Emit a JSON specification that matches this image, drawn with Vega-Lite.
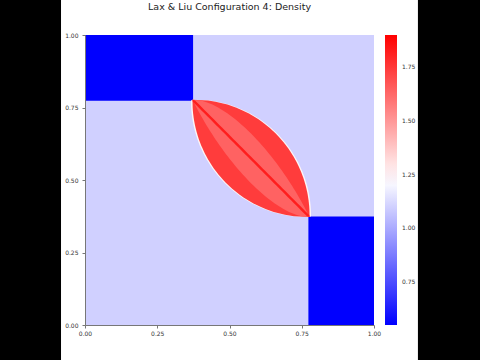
{
"$schema": "https://vega.github.io/schema/vega-lite/v6.json",
"width": 289, "height": 290,
"autosize": {"type": "none"},
"padding": {"left": 85, "top": 35, "right": 106, "bottom": 35},
"background": "black",
"title": {"text": "Lax & Liu Configuration 4: Density", "fontSize": 9.5, "font": "DejaVu Sans", "fontWeight": "normal", "color": "#222", "frame": "group", "anchor": "middle", "baseline": "alphabetic", "offset": 0, "dy": 20.5},
"config": {
  "view": {"stroke": null},
  "axis": {"labelFontSize": 6, "labelColor": "#333", "tickColor": "#777", "domainColor": "#777", "tickSize": 3, "labelPadding": 2, "grid": false, "labelFont": "DejaVu Sans", "labelFlush": false},
  "axisY": {"labelPadding": 4},
  "legend": {"labelFont": "DejaVu Sans"}
},
"datasets": {
  "cells": [
    {"x":0,"x2":1,"y":0,"y2":1,"v":1.1},
    {"x":0,"x2":0.374,"y":0.773,"y2":1,"v":0.5065},
    {"x":0.773,"x2":1,"y":0,"y2":0.374,"v":0.5065}
  ],
  "rim": [
    {"y":0.372,"x":0.777,"x2":0.777,"v":1.25},
    {"y":0.375,"x":0.7175,"x2":0.782,"v":1.25},
    {"y":0.38,"x":0.6869,"x2":0.782,"v":1.25},
    {"y":0.39,"x":0.6479,"x2":0.7818,"v":1.25},
    {"y":0.40,"x":0.6195,"x2":0.7814,"v":1.25},
    {"y":0.41,"x":0.5964,"x2":0.7807,"v":1.25},
    {"y":0.42,"x":0.5766,"x2":0.7797,"v":1.25},
    {"y":0.43,"x":0.5591,"x2":0.7786,"v":1.25},
    {"y":0.44,"x":0.5435,"x2":0.7771,"v":1.25},
    {"y":0.45,"x":0.5293,"x2":0.7754,"v":1.25},
    {"y":0.46,"x":0.5163,"x2":0.7734,"v":1.25},
    {"y":0.47,"x":0.5043,"x2":0.7712,"v":1.25},
    {"y":0.48,"x":0.4933,"x2":0.7687,"v":1.25},
    {"y":0.49,"x":0.483,"x2":0.7659,"v":1.25},
    {"y":0.50,"x":0.4734,"x2":0.7628,"v":1.25},
    {"y":0.51,"x":0.4644,"x2":0.7594,"v":1.25},
    {"y":0.52,"x":0.4561,"x2":0.7558,"v":1.25},
    {"y":0.53,"x":0.4482,"x2":0.7518,"v":1.25},
    {"y":0.54,"x":0.4409,"x2":0.7475,"v":1.25},
    {"y":0.55,"x":0.434,"x2":0.7429,"v":1.25},
    {"y":0.56,"x":0.4275,"x2":0.7379,"v":1.25},
    {"y":0.57,"x":0.4215,"x2":0.7326,"v":1.25},
    {"y":0.58,"x":0.4159,"x2":0.7269,"v":1.25},
    {"y":0.59,"x":0.4106,"x2":0.7208,"v":1.25},
    {"y":0.60,"x":0.4057,"x2":0.7144,"v":1.25},
    {"y":0.61,"x":0.4011,"x2":0.7074,"v":1.25},
    {"y":0.62,"x":0.3968,"x2":0.70,"v":1.25},
    {"y":0.63,"x":0.3929,"x2":0.6921,"v":1.25},
    {"y":0.64,"x":0.3892,"x2":0.6837,"v":1.25},
    {"y":0.65,"x":0.3859,"x2":0.6747,"v":1.25},
    {"y":0.66,"x":0.3829,"x2":0.665,"v":1.25},
    {"y":0.67,"x":0.3801,"x2":0.6547,"v":1.25},
    {"y":0.68,"x":0.3776,"x2":0.6435,"v":1.25},
    {"y":0.69,"x":0.3754,"x2":0.6315,"v":1.25},
    {"y":0.70,"x":0.3734,"x2":0.6184,"v":1.25},
    {"y":0.71,"x":0.3717,"x2":0.604,"v":1.25},
    {"y":0.72,"x":0.3703,"x2":0.5882,"v":1.25},
    {"y":0.73,"x":0.3691,"x2":0.5706,"v":1.25},
    {"y":0.74,"x":0.3682,"x2":0.5505,"v":1.25},
    {"y":0.75,"x":0.3676,"x2":0.527,"v":1.25},
    {"y":0.76,"x":0.3672,"x2":0.4979,"v":1.25},
    {"y":0.77,"x":0.367,"x2":0.457,"v":1.25},
    {"y":0.774,"x":0.367,"x2":0.4315,"v":1.25},
    {"y":0.777,"x":0.372,"x2":0.372,"v":1.25}
  ],
  "full": [
    {"y":0.372,"x":0.777,"x2":0.777,"v":1.74},
    {"y":0.375,"x":0.7225,"x2":0.777,"v":1.74},
    {"y":0.38,"x":0.6919,"x2":0.777,"v":1.74},
    {"y":0.39,"x":0.6529,"x2":0.7768,"v":1.74},
    {"y":0.40,"x":0.6245,"x2":0.7764,"v":1.74},
    {"y":0.41,"x":0.6014,"x2":0.7757,"v":1.74},
    {"y":0.42,"x":0.5816,"x2":0.7747,"v":1.74},
    {"y":0.43,"x":0.5641,"x2":0.7736,"v":1.74},
    {"y":0.44,"x":0.5485,"x2":0.7721,"v":1.74},
    {"y":0.45,"x":0.5343,"x2":0.7704,"v":1.74},
    {"y":0.46,"x":0.5213,"x2":0.7684,"v":1.74},
    {"y":0.47,"x":0.5093,"x2":0.7662,"v":1.74},
    {"y":0.48,"x":0.4983,"x2":0.7637,"v":1.74},
    {"y":0.49,"x":0.488,"x2":0.7609,"v":1.74},
    {"y":0.50,"x":0.4784,"x2":0.7578,"v":1.74},
    {"y":0.51,"x":0.4694,"x2":0.7544,"v":1.74},
    {"y":0.52,"x":0.4611,"x2":0.7508,"v":1.74},
    {"y":0.53,"x":0.4532,"x2":0.7468,"v":1.74},
    {"y":0.54,"x":0.4459,"x2":0.7425,"v":1.74},
    {"y":0.55,"x":0.439,"x2":0.7379,"v":1.74},
    {"y":0.56,"x":0.4325,"x2":0.7329,"v":1.74},
    {"y":0.57,"x":0.4265,"x2":0.7276,"v":1.74},
    {"y":0.58,"x":0.4209,"x2":0.7219,"v":1.74},
    {"y":0.59,"x":0.4156,"x2":0.7158,"v":1.74},
    {"y":0.60,"x":0.4107,"x2":0.7094,"v":1.74},
    {"y":0.61,"x":0.4061,"x2":0.7024,"v":1.74},
    {"y":0.62,"x":0.4018,"x2":0.695,"v":1.74},
    {"y":0.63,"x":0.3979,"x2":0.6871,"v":1.74},
    {"y":0.64,"x":0.3942,"x2":0.6787,"v":1.74},
    {"y":0.65,"x":0.3909,"x2":0.6697,"v":1.74},
    {"y":0.66,"x":0.3879,"x2":0.66,"v":1.74},
    {"y":0.67,"x":0.3851,"x2":0.6497,"v":1.74},
    {"y":0.68,"x":0.3826,"x2":0.6385,"v":1.74},
    {"y":0.69,"x":0.3804,"x2":0.6265,"v":1.74},
    {"y":0.70,"x":0.3784,"x2":0.6134,"v":1.74},
    {"y":0.71,"x":0.3767,"x2":0.599,"v":1.74},
    {"y":0.72,"x":0.3753,"x2":0.5832,"v":1.74},
    {"y":0.73,"x":0.3741,"x2":0.5656,"v":1.74},
    {"y":0.74,"x":0.3732,"x2":0.5455,"v":1.74},
    {"y":0.75,"x":0.3726,"x2":0.522,"v":1.74},
    {"y":0.76,"x":0.3722,"x2":0.4929,"v":1.74},
    {"y":0.77,"x":0.372,"x2":0.452,"v":1.74},
    {"y":0.774,"x":0.372,"x2":0.4265,"v":1.74},
    {"y":0.777,"x":0.372,"x2":0.372,"v":1.74}
  ],
  "center": [
    {"y":0.372,"x":0.777,"x2":0.777,"v":1.64},
    {"y":0.375,"x":0.7483,"x2":0.7755,"v":1.64},
    {"y":0.38,"x":0.7305,"x2":0.773,"v":1.64},
    {"y":0.39,"x":0.706,"x2":0.7679,"v":1.64},
    {"y":0.40,"x":0.6868,"x2":0.7627,"v":1.64},
    {"y":0.41,"x":0.6702,"x2":0.7574,"v":1.64},
    {"y":0.42,"x":0.6553,"x2":0.7519,"v":1.64},
    {"y":0.43,"x":0.6416,"x2":0.7463,"v":1.64},
    {"y":0.44,"x":0.6288,"x2":0.7406,"v":1.64},
    {"y":0.45,"x":0.6167,"x2":0.7347,"v":1.64},
    {"y":0.46,"x":0.6052,"x2":0.7287,"v":1.64},
    {"y":0.47,"x":0.5942,"x2":0.7226,"v":1.64},
    {"y":0.48,"x":0.5837,"x2":0.7164,"v":1.64},
    {"y":0.49,"x":0.5735,"x2":0.71,"v":1.64},
    {"y":0.50,"x":0.5637,"x2":0.7034,"v":1.64},
    {"y":0.51,"x":0.5542,"x2":0.6967,"v":1.64},
    {"y":0.52,"x":0.5451,"x2":0.6899,"v":1.64},
    {"y":0.53,"x":0.5361,"x2":0.6829,"v":1.64},
    {"y":0.54,"x":0.5275,"x2":0.6758,"v":1.64},
    {"y":0.55,"x":0.519,"x2":0.6685,"v":1.64},
    {"y":0.56,"x":0.5108,"x2":0.661,"v":1.64},
    {"y":0.57,"x":0.5028,"x2":0.6533,"v":1.64},
    {"y":0.58,"x":0.495,"x2":0.6455,"v":1.64},
    {"y":0.59,"x":0.4873,"x2":0.6374,"v":1.64},
    {"y":0.60,"x":0.4799,"x2":0.6292,"v":1.64},
    {"y":0.61,"x":0.4726,"x2":0.6207,"v":1.64},
    {"y":0.62,"x":0.4654,"x2":0.612,"v":1.64},
    {"y":0.63,"x":0.4585,"x2":0.6031,"v":1.64},
    {"y":0.64,"x":0.4516,"x2":0.5939,"v":1.64},
    {"y":0.65,"x":0.445,"x2":0.5844,"v":1.64},
    {"y":0.66,"x":0.4385,"x2":0.5745,"v":1.64},
    {"y":0.67,"x":0.4321,"x2":0.5644,"v":1.64},
    {"y":0.68,"x":0.4258,"x2":0.5538,"v":1.64},
    {"y":0.69,"x":0.4197,"x2":0.5428,"v":1.64},
    {"y":0.70,"x":0.4137,"x2":0.5312,"v":1.64},
    {"y":0.71,"x":0.4079,"x2":0.519,"v":1.64},
    {"y":0.72,"x":0.4022,"x2":0.5061,"v":1.64},
    {"y":0.73,"x":0.3966,"x2":0.4923,"v":1.64},
    {"y":0.74,"x":0.3911,"x2":0.4773,"v":1.64},
    {"y":0.75,"x":0.3858,"x2":0.4605,"v":1.64},
    {"y":0.76,"x":0.3806,"x2":0.441,"v":1.64},
    {"y":0.77,"x":0.3755,"x2":0.4155,"v":1.64},
    {"y":0.774,"x":0.3735,"x2":0.4008,"v":1.64},
    {"y":0.777,"x":0.372,"x2":0.372,"v":1.64}
  ],
  "stripe": [
    {"y":0.372,"x":0.777,"x2":0.777,"v":1.82},
    {"y":0.375,"x":0.768,"x2":0.777,"v":1.82},
    {"y":0.38,"x":0.763,"x2":0.775,"v":1.82},
    {"y":0.39,"x":0.753,"x2":0.765,"v":1.82},
    {"y":0.40,"x":0.743,"x2":0.755,"v":1.82},
    {"y":0.41,"x":0.733,"x2":0.745,"v":1.82},
    {"y":0.42,"x":0.723,"x2":0.735,"v":1.82},
    {"y":0.43,"x":0.713,"x2":0.725,"v":1.82},
    {"y":0.44,"x":0.703,"x2":0.715,"v":1.82},
    {"y":0.45,"x":0.693,"x2":0.705,"v":1.82},
    {"y":0.46,"x":0.683,"x2":0.695,"v":1.82},
    {"y":0.47,"x":0.673,"x2":0.685,"v":1.82},
    {"y":0.48,"x":0.663,"x2":0.675,"v":1.82},
    {"y":0.49,"x":0.653,"x2":0.665,"v":1.82},
    {"y":0.50,"x":0.643,"x2":0.655,"v":1.82},
    {"y":0.51,"x":0.633,"x2":0.645,"v":1.82},
    {"y":0.52,"x":0.623,"x2":0.635,"v":1.82},
    {"y":0.53,"x":0.613,"x2":0.625,"v":1.82},
    {"y":0.54,"x":0.603,"x2":0.615,"v":1.82},
    {"y":0.55,"x":0.593,"x2":0.605,"v":1.82},
    {"y":0.56,"x":0.583,"x2":0.595,"v":1.82},
    {"y":0.57,"x":0.573,"x2":0.585,"v":1.82},
    {"y":0.58,"x":0.563,"x2":0.575,"v":1.82},
    {"y":0.59,"x":0.553,"x2":0.565,"v":1.82},
    {"y":0.60,"x":0.543,"x2":0.555,"v":1.82},
    {"y":0.61,"x":0.533,"x2":0.545,"v":1.82},
    {"y":0.62,"x":0.523,"x2":0.535,"v":1.82},
    {"y":0.63,"x":0.513,"x2":0.525,"v":1.82},
    {"y":0.64,"x":0.503,"x2":0.515,"v":1.82},
    {"y":0.65,"x":0.493,"x2":0.505,"v":1.82},
    {"y":0.66,"x":0.483,"x2":0.495,"v":1.82},
    {"y":0.67,"x":0.473,"x2":0.485,"v":1.82},
    {"y":0.68,"x":0.463,"x2":0.475,"v":1.82},
    {"y":0.69,"x":0.453,"x2":0.465,"v":1.82},
    {"y":0.70,"x":0.443,"x2":0.455,"v":1.82},
    {"y":0.71,"x":0.433,"x2":0.445,"v":1.82},
    {"y":0.72,"x":0.423,"x2":0.435,"v":1.82},
    {"y":0.73,"x":0.413,"x2":0.425,"v":1.82},
    {"y":0.74,"x":0.403,"x2":0.415,"v":1.82},
    {"y":0.75,"x":0.393,"x2":0.405,"v":1.82},
    {"y":0.76,"x":0.383,"x2":0.395,"v":1.82},
    {"y":0.77,"x":0.373,"x2":0.385,"v":1.82},
    {"y":0.774,"x":0.372,"x2":0.381,"v":1.82},
    {"y":0.777,"x":0.372,"x2":0.372,"v":1.82}
  ]
},
"layer": [
  {
    "data": {"values": [{"part": "page"}]},
    "mark": {"type": "rect", "color": "white", "clip": false},
    "encoding": {
      "x": {"datum": -0.083, "type": "quantitative", "scale": {"domain": [0, 1], "nice": false}, "axis": {"values": [0, 0.25, 0.5, 0.75, 1], "format": ".2f", "title": null, "zindex": 1}},
      "x2": {"datum": 1.152},
      "y": {"datum": -0.13, "type": "quantitative", "scale": {"domain": [0, 1], "nice": false}, "axis": {"values": [0, 0.25, 0.5, 0.75, 1], "format": ".2f", "title": null, "zindex": 1}},
      "y2": {"datum": 1.125}
    }
  },
  {
    "data": {"name": "cells"},
    "mark": {"type": "rect"},
    "encoding": {
      "x": {"field": "x", "type": "quantitative", "scale": {"domain": [0, 1], "nice": false}, "axis": {"values": [0, 0.25, 0.5, 0.75, 1], "format": ".2f", "title": null, "zindex": 1}},
      "x2": {"field": "x2"},
      "y": {"field": "y", "type": "quantitative", "scale": {"domain": [0, 1], "nice": false}, "axis": {"values": [0, 0.25, 0.5, 0.75, 1], "format": ".2f", "title": null, "zindex": 1}},
      "y2": {"field": "y2"},
      "color": {"field": "v", "type": "quantitative", "scale": {"domain": [0.55, 1.225, 1.9], "range": ["#0000ff", "#ffffff", "#ff0000"], "interpolate": "rgb", "clamp": true},
        "legend": {"title": null, "values": [0.75, 1, 1.25, 1.5, 1.75], "format": ".2f", "gradientLength": 290, "gradientThickness": 12, "offset": 11, "labelFontSize": 6, "labelColor": "#333", "labelOffset": 5, "gradientStrokeWidth": 0, "labelOverlap": false}}
    }
  },
  {
    "data": {"name": "rim"},
    "mark": {"type": "area", "orient": "horizontal", "interpolate": "linear"},
    "encoding": {
      "y": {"field": "y", "type": "quantitative", "scale": {"domain": [0, 1], "nice": false}, "axis": {"values": [0, 0.25, 0.5, 0.75, 1], "format": ".2f", "title": null, "zindex": 1}},
      "x": {"field": "x", "type": "quantitative", "stack": null, "scale": {"domain": [0, 1], "nice": false}, "axis": {"values": [0, 0.25, 0.5, 0.75, 1], "format": ".2f", "title": null, "zindex": 1}},
      "x2": {"field": "x2"},
      "color": {"field": "v", "type": "quantitative"}
    }
  },
  {
    "data": {"name": "full"},
    "mark": {"type": "area", "orient": "horizontal", "interpolate": "linear"},
    "encoding": {
      "y": {"field": "y", "type": "quantitative", "scale": {"domain": [0, 1], "nice": false}, "axis": {"values": [0, 0.25, 0.5, 0.75, 1], "format": ".2f", "title": null, "zindex": 1}},
      "x": {"field": "x", "type": "quantitative", "stack": null, "scale": {"domain": [0, 1], "nice": false}, "axis": {"values": [0, 0.25, 0.5, 0.75, 1], "format": ".2f", "title": null, "zindex": 1}},
      "x2": {"field": "x2"},
      "color": {"field": "v", "type": "quantitative"}
    }
  },
  {
    "data": {"name": "center"},
    "mark": {"type": "area", "orient": "horizontal", "interpolate": "linear"},
    "encoding": {
      "y": {"field": "y", "type": "quantitative", "scale": {"domain": [0, 1], "nice": false}, "axis": {"values": [0, 0.25, 0.5, 0.75, 1], "format": ".2f", "title": null, "zindex": 1}},
      "x": {"field": "x", "type": "quantitative", "stack": null, "scale": {"domain": [0, 1], "nice": false}, "axis": {"values": [0, 0.25, 0.5, 0.75, 1], "format": ".2f", "title": null, "zindex": 1}},
      "x2": {"field": "x2"},
      "color": {"field": "v", "type": "quantitative"}
    }
  },
  {
    "data": {"name": "stripe"},
    "mark": {"type": "area", "orient": "horizontal", "interpolate": "linear"},
    "encoding": {
      "y": {"field": "y", "type": "quantitative", "scale": {"domain": [0, 1], "nice": false}, "axis": {"values": [0, 0.25, 0.5, 0.75, 1], "format": ".2f", "title": null, "zindex": 1}},
      "x": {"field": "x", "type": "quantitative", "stack": null, "scale": {"domain": [0, 1], "nice": false}, "axis": {"values": [0, 0.25, 0.5, 0.75, 1], "format": ".2f", "title": null, "zindex": 1}},
      "x2": {"field": "x2"},
      "color": {"field": "v", "type": "quantitative"}
    }
  }
]
}
